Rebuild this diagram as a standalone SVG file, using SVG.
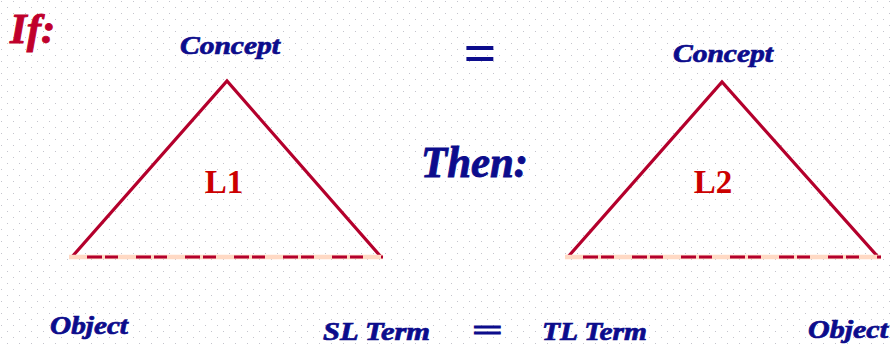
<svg xmlns="http://www.w3.org/2000/svg" width="890" height="345" viewBox="0 0 890 345">
<defs>
<pattern id="dots" width="12" height="12" patternUnits="userSpaceOnUse">
<rect x="1" y="1" width="1" height="1" fill="#c4c4cc"/>
<rect x="7" y="7" width="1" height="1" fill="#c4c4cc"/>
</pattern>
</defs>
<style>
.lbl{font-family:"Liberation Serif","Times New Roman",serif;font-weight:bold;font-style:italic;fill:#0c0c8c;stroke:#0c0c8c;stroke-width:0.7}
.big{font-family:"Liberation Serif","Times New Roman",serif;font-weight:bold;font-style:italic;stroke-width:0.9}
.lname{font-family:"Liberation Serif","Times New Roman",serif;font-weight:bold;fill:#cc0000;font-size:33px}
.eq{font-family:"Liberation Serif","Times New Roman",serif;font-weight:bold;fill:#0c0c8c}
.side{fill:none;stroke:#b4002c;stroke-width:3.2;stroke-linejoin:miter;stroke-linecap:butt}
.basebg{stroke:#ffd9c4;stroke-width:4.5}
.base{stroke:#b4002c;stroke-width:3;stroke-dasharray:15 3 13 18;stroke-dashoffset:31}
</style>
<rect width="890" height="345" fill="#ffffff"/>
<rect width="890" height="345" fill="url(#dots)"/>

<text id="if" class="big" x="10" y="43" font-size="43" fill="#c0002c" stroke="#c0002c">If:</text>
<text id="then" class="big" x="421" y="177" font-size="44" fill="#0c0c8c" stroke="#0c0c8c" textLength="107" lengthAdjust="spacingAndGlyphs">Then:</text>
<text id="eq-top" class="eq" x="480" y="72" font-size="58" text-anchor="middle">=</text>

<g id="connectors">
<polyline class="side" points="71,258 227,81 382,258"/>
<line class="basebg" x1="69" y1="257" x2="383" y2="257"/>
<line class="base" x1="69" y1="257" x2="383" y2="257"/>
<polyline class="side" points="567,258 722,82 879,258"/>
<line class="basebg" x1="565" y1="257" x2="881" y2="257"/>
<line class="base" x1="565" y1="257" x2="881" y2="257"/>
</g>

<g id="L1"><text class="lname" x="224" y="193" text-anchor="middle">L1</text></g>
<g id="L2"><text class="lname" x="713" y="193" text-anchor="middle">L2</text></g>

<g id="concept-left"><text class="lbl" x="180" y="54" font-size="25" textLength="100" lengthAdjust="spacingAndGlyphs">Concept</text></g>
<g id="concept-right"><text class="lbl" x="673" y="62" font-size="25" textLength="100" lengthAdjust="spacingAndGlyphs">Concept</text></g>
<g id="object-left"><text class="lbl" x="50" y="334" font-size="25" textLength="78" lengthAdjust="spacingAndGlyphs">Object</text></g>
<g id="sl-term"><text class="lbl" x="323" y="340" font-size="25" textLength="107" lengthAdjust="spacingAndGlyphs">SL Term</text></g>
<g id="eq-bottom"><text class="eq" x="472" y="340" font-size="30" textLength="31" lengthAdjust="spacingAndGlyphs" stroke="#0c0c8c" stroke-width="0.9">=</text></g>
<g id="tl-term"><text class="lbl" x="542" y="340" font-size="25" textLength="105" lengthAdjust="spacingAndGlyphs">TL Term</text></g>
<g id="object-right"><text class="lbl" x="808" y="338" font-size="25" textLength="80" lengthAdjust="spacingAndGlyphs">Object</text></g>
</svg>
